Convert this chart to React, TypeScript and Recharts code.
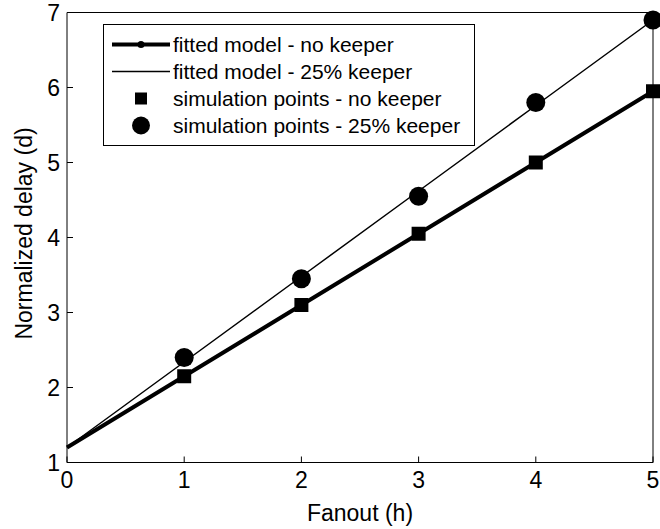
import { ComposedChart, Line, XAxis, YAxis, Legend, Label } from 'recharts';

// values
const fanout = [0, 1, 2, 3, 4, 5];
const fitNoKeeper = [1.2, 2.15, 3.1, 4.05, 5.0, 5.95];
const fitKeeper = [1.2, 2.34, 3.48, 4.62, 5.76, 6.9];
const simNoKeeper = [null, 2.15, 3.1, 4.05, 5.0, 5.95];
const simKeeper = [null, 2.4, 3.45, 4.55, 5.8, 6.9];

const xTicks = [0, 1, 2, 3, 4, 5];
const yTicks = [1, 2, 3, 4, 5, 6, 7];

const seriesNames = [
    'fitted model - no keeper',
    'fitted model - 25% keeper',
    'simulation points - no keeper',
    'simulation points - 25% keeper',
];
const seriesKinds = ['thick', 'thin', 'square', 'circle'];

const data = fanout.map((h, i) => ({
    h,
    fitNo: fitNoKeeper[i],
    fit25: fitKeeper[i],
    simNo: simNoKeeper[i],
    sim25: simKeeper[i],
}));

const FONT = '"Liberation Sans", Arial, Helvetica, sans-serif';
const tickStyle = { fill: '#000', fontSize: 23, fontFamily: FONT };

function SquareDot(props: any) {
    const { cx, cy, value, index } = props;
    if (value == null || cx == null || cy == null) return <g key={`sq-${index}`} />;
    return <rect key={`sq-${index}`} x={cx - 7} y={cy - 7} width={14} height={14} fill="#000" />;
}

function CircleDot(props: any) {
    const { cx, cy, value, index } = props;
    if (value == null || cx == null || cy == null) return <g key={`ci-${index}`} />;
    return <circle key={`ci-${index}`} cx={cx} cy={cy} r={9.5} fill="#000" />;
}

function LegendBox() {
    return (
        <div
            style={{
                border: '1px solid #000',
                background: '#fff',
                padding: '6px 14px 6px 0',
                fontFamily: FONT,
                fontSize: 21,
                color: '#000',
            }}
        >
            {seriesNames.map((name, i) => (
                <div key={name} style={{ display: 'flex', alignItems: 'center', height: 27 }}>
                    <svg width={69} height={27} style={{ flex: 'none' }}>
                        {seriesKinds[i] === 'thick' && (
                            <g>
                                <line x1={8} x2={66} y1={13.5} y2={13.5} stroke="#000" strokeWidth={4} />
                                <circle cx={37} cy={13.5} r={3.5} fill="#000" />
                            </g>
                        )}
                        {seriesKinds[i] === 'thin' && (
                            <line x1={8} x2={66} y1={13.5} y2={13.5} stroke="#000" strokeWidth={1.5} />
                        )}
                        {seriesKinds[i] === 'square' && <rect x={31} y={7.5} width={12} height={12} fill="#000" />}
                        {seriesKinds[i] === 'circle' && <circle cx={37} cy={13.5} r={9} fill="#000" />}
                    </svg>
                    <span style={{ whiteSpace: 'nowrap' }}>{name}</span>
                </div>
            ))}
        </div>
    );
}

export default function App() {
    return (
        <div style={{ position: 'absolute', left: 0, top: 0, background: '#fff' }}>
            <ComposedChart
                width={660}
                height={529}
                data={data}
                margin={{ top: 11.5, right: 6, left: 0, bottom: 0 }}
            >
                <XAxis
                    xAxisId="bottom"
                    dataKey="h"
                    type="number"
                    domain={[0, 5]}
                    ticks={xTicks}
                    height={66.5}
                    tick={tickStyle}
                    tickSize={-6}
                    tickMargin={15}
                    axisLine={{ stroke: '#000' }}
                    tickLine={{ stroke: '#000' }}
                >
                    <Label
                        value="Fanout (h)"
                        position="insideBottom"
                        offset={8}
                        style={{ fill: '#000', fontSize: 23, fontFamily: FONT }}
                    />
                </XAxis>
                <XAxis
                    xAxisId="top"
                    orientation="top"
                    dataKey="h"
                    type="number"
                    domain={[0, 5]}
                    ticks={xTicks}
                    height={1}
                    tick={false}
                    tickSize={-6}
                    axisLine={{ stroke: '#000' }}
                    tickLine={{ stroke: '#000' }}
                />
                <YAxis
                    yAxisId="left"
                    type="number"
                    domain={[1, 7]}
                    ticks={yTicks}
                    width={67}
                    tick={tickStyle}
                    tickSize={-6}
                    tickMargin={13}
                    axisLine={{ stroke: '#000' }}
                    tickLine={{ stroke: '#000' }}
                >
                    <Label
                        content={(props: any) => {
                            const vb = props.viewBox || { x: 0, y: 0, width: 67, height: 450 };
                            const cx = vb.x + 24;
                            const cy = vb.y + vb.height / 2 - 4;
                            return (
                                <text
                                    x={cx}
                                    y={cy}
                                    transform={`rotate(-90 ${cx} ${cy})`}
                                    textAnchor="middle"
                                    dominantBaseline="central"
                                    style={{ fill: '#000', fontSize: 23, fontFamily: FONT }}
                                >
                                    Normalized delay (d)
                                </text>
                            );
                        }}
                    />
                </YAxis>
                <YAxis
                    yAxisId="right"
                    orientation="right"
                    type="number"
                    domain={[1, 7]}
                    ticks={yTicks}
                    width={1}
                    tick={false}
                    tickSize={-6}
                    axisLine={{ stroke: '#000' }}
                    tickLine={{ stroke: '#000' }}
                />
                <Legend
                    layout="vertical"
                    align="center"
                    verticalAlign="middle"
                    content={() => <LegendBox />}
                    wrapperStyle={{ left: 103, top: 24, width: 'auto' }}
                />
                <Line
                    xAxisId="bottom"
                    yAxisId="left"
                    dataKey="fitNo"
                    stroke="#000"
                    strokeWidth={4}
                    dot={false}
                    activeDot={false}
                    isAnimationActive={false}
                />
                <Line
                    xAxisId="bottom"
                    yAxisId="left"
                    dataKey="fit25"
                    stroke="#000"
                    strokeWidth={1.5}
                    dot={false}
                    activeDot={false}
                    isAnimationActive={false}
                />
                <Line
                    xAxisId="bottom"
                    yAxisId="left"
                    dataKey="simNo"
                    stroke="none"
                    dot={SquareDot}
                    activeDot={false}
                    isAnimationActive={false}
                />
                <Line
                    xAxisId="bottom"
                    yAxisId="left"
                    dataKey="sim25"
                    stroke="none"
                    dot={CircleDot}
                    activeDot={false}
                    isAnimationActive={false}
                />
            </ComposedChart>
        </div>
    );
}
